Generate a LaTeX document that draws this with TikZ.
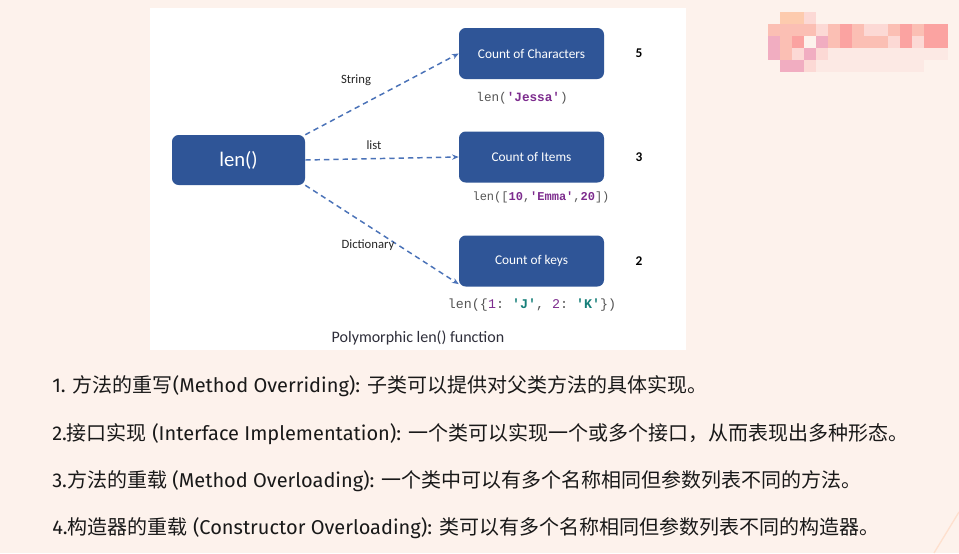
\documentclass[tikz,border=0pt]{standalone}
\usepackage{fontspec}
\setmainfont{Carlito}
\setmonofont{Liberation Mono}
\newfontfamily\cjkfont{Noto Sans CJK SC}
\newfontfamily\plexfont{Fira Sans}
\usepackage{tikz}
\usetikzlibrary{arrows.meta,positioning}
\definecolor{pagebg}{HTML}{FDF2EC}
\definecolor{boxblue}{HTML}{2F5597}
\definecolor{arrowblue}{HTML}{4A72B8}
\definecolor{codepurple}{HTML}{7D2C8E}
\definecolor{codeteal}{HTML}{17807A}
\definecolor{codegray}{HTML}{555555}
\definecolor{captext}{HTML}{2E2E3A}
\definecolor{mzA}{HTML}{FDCBAE}
\definecolor{mzB}{HTML}{FBBFB4}
\definecolor{mzC}{HTML}{FBA3A1}
\definecolor{mzD}{HTML}{F1ADC1}
\definecolor{mzE}{HTML}{FCD9D5}
\definecolor{mzF}{HTML}{FCE9E4}
\newcommand\zh[1]{{\cjkfont #1}}
\newcommand\kw[1]{\textbf{\color{codepurple}#1}}
\newcommand\kt[1]{\textbf{\color{codeteal}#1}}

\begin{document}
\begin{tikzpicture}[
 x=0.75pt,
 y=-0.75pt,
 func/.style={
  fill=boxblue,
  rounded corners=5pt,
  text=white,
  minimum width=99.75pt,
  minimum height=37.5pt,
  font=\fontsize{15.5}{18}\selectfont
 },
 result/.style={
  fill=boxblue,
  rounded corners=5pt,
  text=white,
  minimum width=108.75pt,
  minimum height=38.25pt,
  font=\fontsize{10}{12}\selectfont
 },
 kind/.style={font=\fontsize{9.5}{11}\selectfont,text=black!85},
 count/.style={font=\bfseries\fontsize{10}{12}\selectfont},
 call/.style={font=\ttfamily\fontsize{9.5}{11}\selectfont,text=codegray},
 dispatch/.style={-{Stealth[length=5pt,width=4pt]},arrowblue,line width=1.1pt,
  dash pattern=on 4pt off 3pt},
 point/.style={anchor=west,inner sep=0pt,text=black!90,
  font=\plexfont\fontsize{15}{18}\selectfont}
]
 \useasboundingbox (0,0) rectangle (959,553);
 \fill[pagebg] (0,0) rectangle (959,553);
 \draw[mzA!60,line width=1pt] (959,512) -- (934,553);
 \foreach \c/\r/\m in {1/0/mzA,2/0/mzA,3/0/mzE,
   0/1/mzB,1/1/mzB,2/1/mzB,3/1/mzB,4/1/mzE,5/1/mzB,6/1/mzC,7/1/mzB,8/1/mzE,
   9/1/mzE,10/1/mzB,11/1/mzC,12/1/mzB,13/1/mzC,14/1/mzC,
   0/2/mzD,1/2/mzB,2/2/mzC,4/2/mzD,5/2/mzB,6/2/mzC,7/2/mzB,8/2/mzB,9/2/mzB,
   10/2/mzE,11/2/mzC,12/2/mzE,13/2/mzC,14/2/mzC,
   0/3/mzD,1/3/mzB,2/3/mzE,3/3/mzD,4/3/mzE,1/4/mzD,2/4/mzD,3/4/mzE}
  \fill[\m] (768+12*\c,12+12*\r) rectangle ++(12,12);
 \foreach \c in {5,...,14}
  \fill[mzF] (768+12*\c,48) rectangle ++(12,12);
 \foreach \c in {4,...,12}
  \fill[mzF] (768+12*\c,60) rectangle ++(12,12);

 \fill[white] (150,8) rectangle (686,350);

 \node[func]   (len)   at (238.5,160) {len()};
 \node[result] (chars) at (531.5,53.5) {Count of Characters};
 \node[result] (items) at (531.5,157) {Count of Items};
 \node[result] (keys)  at (531.5,261) {Count of keys};

 \node[count,right=20pt of chars] (n5) {5};
 \node[count,right=20pt of items] (n3) {3};
 \node[count,right=20pt of keys]  (n2) {2};

 \draw[dispatch] (len.north east) -- (chars.west);
 \draw[dispatch] (len.east) -- (items.west);
 \draw[dispatch] (len.south east) -- ([yshift=2pt]keys.south west);

 \node[kind] (str)  at (356,80)  {String};
 \node[kind] (lst)  at (374,145) {list};
 \node[kind] (dict) at (368,245) {Dictionary};

 \node[call] (c1) at (522,98)  {len(\kw{'Jessa'})};
 \node[call,font=\ttfamily\fontsize{9}{11}\selectfont] (c2) at (541,197)
  {len([\kw{10},\kw{'Emma'},\kw{20}])};
 \node[call,font=\ttfamily\fontsize{10}{12}\selectfont] (c3) at (532,305)
  {len(\{\textcolor{codepurple}{1}: \kt{'J'}, \textcolor{codepurple}{2}: \kt{'K'}\})};

 \node[font=\fontsize{12}{14}\selectfont,text=captext] (cap) at (418,338)
  {Polymorphic len() function};

 \node[point] (p1) at (52,386)
  {1. \zh{方法的重写}(Method Overriding): \zh{子类可以提供对父类方法的具体实现。}};
 \node[point] (p2) at (52,434)
  {2.\zh{接口实现} (Interface Implementation): \zh{一个类可以实现一个或多个接口，从而表现出多种形态。}};
 \node[point] (p3) at (52,481)
  {3.\zh{方法的重载} (Method Overloading): \zh{一个类中可以有多个名称相同但参数列表不同的方法。}};
 \node[point] (p4) at (52,528)
  {4.\zh{构造器的重载} (Constructor Overloading): \zh{类可以有多个名称相同但参数列表不同的构造器。}};
\end{tikzpicture}
\end{document}
